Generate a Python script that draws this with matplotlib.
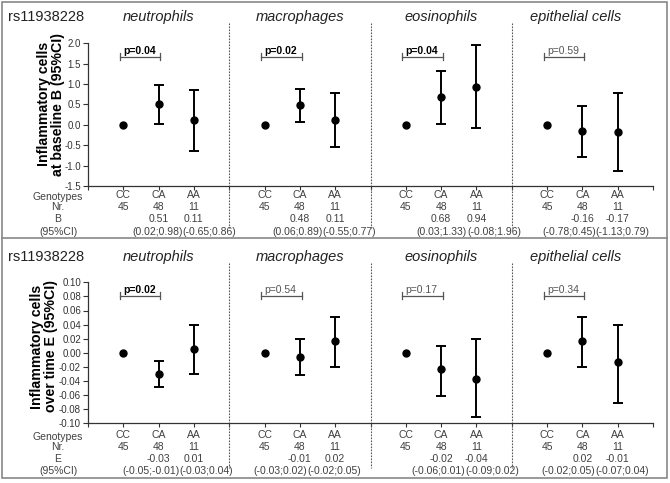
import numpy as np
import matplotlib
matplotlib.use('Agg')
import matplotlib.pyplot as plt
import matplotlib.transforms as mtrans
from matplotlib.lines import Line2D
from matplotlib.patches import Rectangle
from matplotlib.ticker import FormatStrFormatter

plt.rcParams['font.family'] = ['Liberation Sans', 'DejaVu Sans']
plt.rcParams['axes.unicode_minus'] = False

# ---------------- data ----------------
snp = 'rs11938228'
cells = ['neutrophils', 'macrophages', 'eosinophils', 'epithelial cells']
genotypes = ['CC', 'CA', 'AA']
counts = [45, 48, 11]
nan = np.nan

# baseline (B, 95% CI)
base_est = [[0.0, 0.51, 0.11], [0.0, 0.48, 0.11], [0.0, 0.68, 0.94], [0.0, -0.16, -0.17]]
base_lo = [[nan, 0.02, -0.65], [nan, 0.06, -0.55], [nan, 0.03, -0.08], [nan, -0.78, -1.13]]
base_hi = [[nan, 0.98, 0.86], [nan, 0.89, 0.77], [nan, 1.33, 1.96], [nan, 0.45, 0.79]]
base_p = ['p=0.04', 'p=0.02', 'p=0.04', 'p=0.59']
base_sig = [True, True, True, False]

# over time (E, 95% CI)
time_est = [[0.0, -0.0295, 0.006], [0.0, -0.0064, 0.0167], [0.0, -0.0234, -0.0367], [0.0, 0.0167, -0.0135]]
time_lo = [[nan, -0.049, -0.030], [nan, -0.031, -0.020], [nan, -0.061, -0.091], [nan, -0.020, -0.071]]
time_hi = [[nan, -0.011, 0.039], [nan, 0.020, 0.051], [nan, 0.0096, 0.020], [nan, 0.051, 0.040]]
time_p = ['p=0.02', 'p=0.54', 'p=0.17', 'p=0.34']
time_sig = [True, False, False, False]

# ---------------- layout ----------------
W, H = 670, 483
fig = plt.figure(figsize=(W / 100, H / 100), dpi=100)


def fx(px):
    return px / W


def fy(py):
    return 1 - py / H


TXT = '#404040'


def fmt(v):
    return '%.2f' % v


def panel(top_px, bot_px, off, ylim, yticks, yfmt, est, lo, hi, pvals, sig,
          ylabel, ylab_xy, rowname, ci_off, title_x):
    ax = fig.add_axes([fx(88), fy(bot_px), fx(653) - fx(88), (bot_px - top_px) / H])
    ax.set_xlim(0, 16)
    ax.set_ylim(*ylim)
    ax.set_xticks(range(17))
    ax.set_xticklabels([])
    ax.set_yticks(yticks)
    ax.yaxis.set_major_formatter(FormatStrFormatter(yfmt))
    for s in ['top', 'right']:
        ax.spines[s].set_visible(False)
    for s in ['left', 'bottom']:
        ax.spines[s].set_color('#333333')
        ax.spines[s].set_linewidth(0.9)
    ax.tick_params(axis='x', direction='out', length=3, width=0.8, color='#333333')
    ax.tick_params(axis='y', direction='out', length=3.5, width=0.8, color='#333333',
                   labelsize=7.0, labelcolor='#333333', pad=1.5)
    ax.patch.set_alpha(0)

    rng = ylim[1] - ylim[0]
    yb = ylim[0] + 0.905 * rng
    d = 0.025 * rng
    btrans = mtrans.blended_transform_factory(ax.transData, fig.transFigure)
    rows = [195 + off, 207.5 + off, 219.5 + off, 231.5 + off]

    for g in range(4):
        xs = [4 * g + 1, 4 * g + 2, 4 * g + 3]
        e = np.array(est[g])
        l = np.array(lo[g])
        h = np.array(hi[g])
        ax.errorbar(xs[1:], e[1:], yerr=[e[1:] - l[1:], h[1:] - e[1:]], fmt='none',
                    ecolor='black', elinewidth=1.4, capsize=3.8, capthick=1.4)
        ax.plot(xs, e, 'o', color='black', ms=5, clip_on=False, zorder=5)

        # bracket
        x0, x1 = 4 * g + 0.9, 4 * g + 2.05
        bc = '#555555'
        ax.plot([x0, x1], [yb, yb], color=bc, lw=0.9)
        ax.plot([x0, x0], [yb - d, yb + d], color=bc, lw=0.9)
        ax.plot([x1, x1], [yb - d, yb + d], color=bc, lw=0.9)
        ax.annotate(pvals[g], xy=(4 * g + 1.45, yb), xytext=(0, 0.3),
                    textcoords='offset points', ha='center', va='bottom',
                    fontsize=7.5, fontweight='bold' if sig[g] else 'normal',
                    color='black' if sig[g] else '#555555')

        # title
        ax.text(title_x[g], fy(16.7 + off), cells[g], transform=btrans,
                ha='center', va='center', fontsize=10.5, style='italic', color='#222222')

        # table
        for i in range(3):
            ax.text(xs[i], fy(rows[0]), genotypes[i], transform=btrans,
                    ha='center', va='center', fontsize=7.5, color=TXT)
            ax.text(xs[i], fy(rows[1]), str(counts[i]), transform=btrans,
                    ha='center', va='center', fontsize=7.5, color=TXT)
        for i in (1, 2):
            ax.text(xs[i], fy(rows[2]), fmt(e[i]), transform=btrans,
                    ha='center', va='center', fontsize=7.5, color=TXT)
        b = xs[1] + ci_off[g]
        ax.text(b, fy(rows[3]), '(%s;%s)' % (fmt(l[1]), fmt(h[1])), transform=btrans,
                ha='right', va='center', fontsize=7.5, color=TXT)
        ax.text(b, fy(rows[3]), '(%s;%s)' % (fmt(l[2]), fmt(h[2])), transform=btrans,
                ha='left', va='center', fontsize=7.5, color=TXT)

        # dotted separators
        if g > 0:
            xsep = 4 * g
            ax.add_line(Line2D([xsep, xsep], [fy(23 + off), fy(228 + off)], transform=btrans,
                               color='#555555', lw=0.8, linestyle=(0, (1.5, 1.2)),
                               clip_on=False))

    lab_rows = [rows[0] + 2.0] + rows[1:]
    for r, lab in zip(lab_rows, ['Genotypes', 'Nr.', rowname, '(95%CI)']):
        fig.text(fx(58), fy(r), lab, ha='center', va='center', fontsize=7.5, color=TXT)

    fig.text(fx(8), fy(16.7 + off), snp, ha='left', va='center', fontsize=10.5, color='#222222')
    fig.text(fx(ylab_xy[0]), fy(ylab_xy[1]), ylabel, rotation=90, ha='center', va='center',
             fontsize=10.2, fontweight='bold', multialignment='center', linespacing=1.05)
    return ax


panel(43.3, 186, 0, (-1.5, 2.0), np.arange(-1.5, 2.01, 0.5), '%.1f',
      base_est, base_lo, base_hi, base_p, base_sig,
      'Inflammatory cells\nat baseline B (95%CI)', (51, 104), 'B',
      [0.68, 0.65, 0.73, 0.38], [2, 6, 10, 13.8])

panel(282.3, 423.3, 240, (-0.10, 0.10), np.linspace(-0.10, 0.10, 11), '%.2f',
      time_est, time_lo, time_hi, time_p, time_sig,
      'Inflammatory cells\nover time E (95%CI)', (44, 346.5), 'E',
      [0.6, 0.2, 0.68, 0.36], [2, 6, 10, 13.8])

# frame
fig.patches.append(Rectangle((fx(2), fy(478)), fx(667) - fx(2), (478 - 2) / H,
                             transform=fig.transFigure, fill=False,
                             edgecolor='#888888', lw=1.2))
fig.add_artist(Line2D([fx(2), fx(667)], [fy(238), fy(238)], transform=fig.transFigure,
                      color='#888888', lw=1.2))

fig.savefig('out.png', dpi=100)
